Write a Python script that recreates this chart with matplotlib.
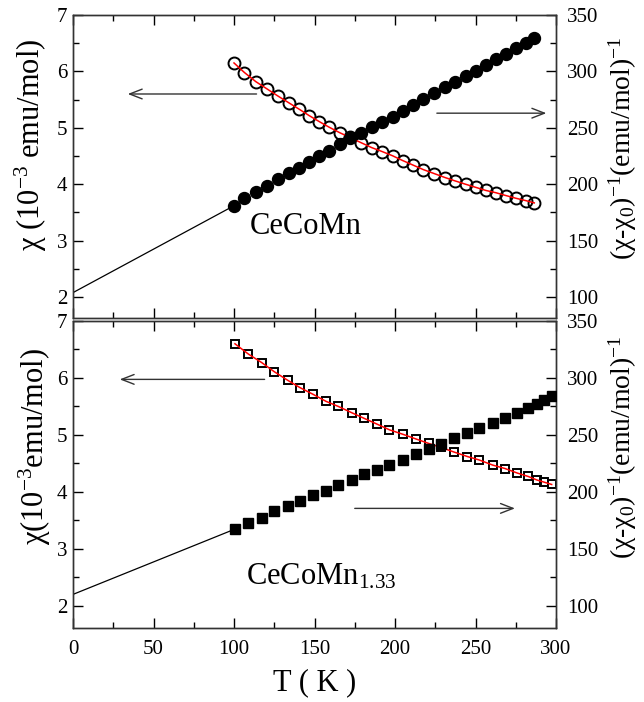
import matplotlib
matplotlib.use("Agg")
import matplotlib.pyplot as plt
from matplotlib.ticker import MultipleLocator

plt.rcParams['font.family'] = ['Liberation Serif', 'DejaVu Serif']
plt.rcParams['mathtext.fontset'] = 'custom'
plt.rcParams['mathtext.rm'] = 'Liberation Serif'
plt.rcParams['mathtext.it'] = 'Liberation Serif:italic'
plt.rcParams['mathtext.bf'] = 'Liberation Serif:bold'

# ---------------- data: CeCoMn (top panel) ----------------
T_top = [100, 106.5, 113.5, 120.5, 127.5, 134, 140.5, 146.8, 153, 159.2,
         165.6, 172, 178.7, 185.5, 192, 198.5, 204.8, 211.2, 217.6, 224.3,
         231, 237.3, 243.9, 250.2, 256.5, 262.7, 268.9, 275.4, 281.3, 286.5]
chi_top = [6.15, 5.98, 5.82, 5.69, 5.56, 5.445, 5.33, 5.215, 5.11, 5.01,
           4.915, 4.83, 4.74, 4.65, 4.58, 4.505, 4.42, 4.34, 4.26, 4.19,
           4.12, 4.06, 4.00, 3.945, 3.89, 3.85, 3.80, 3.75, 3.71, 3.67]
inv_top = [180.7, 187.5, 192.8, 198.4, 204.3, 209.7, 214.6, 220.0, 225.0, 229.7,
           235.6, 240.7, 245.1, 250.4, 254.9, 259.8, 264.9, 270.2, 275.5, 280.6,
           285.9, 290.9, 295.9, 300.6, 305.7, 310.7, 315.4, 320.5, 325.4, 329.3]
ext_T_top = [0, 100]
ext_inv_top = [104, 181]

# ---------------- data: CeCoMn1.33 (bottom panel) ----------------
T_bot = [100.6, 108.9, 117.2, 125, 133.3, 141, 149.3, 157.1, 164.8, 173.1,
         180.9, 188.8, 196.5, 205, 212.9, 221, 228.6, 236.6, 245, 252.3,
         260.7, 268.3, 276, 282.8, 288, 292.7, 297.3]
chi_bot = [6.60, 6.42, 6.27, 6.11, 5.96, 5.83, 5.71, 5.59, 5.50, 5.39,
           5.29, 5.19, 5.09, 5.01, 4.93, 4.85, 4.78, 4.70, 4.62, 4.56,
           4.47, 4.41, 4.33, 4.27, 4.21, 4.17, 4.13]
inv_bot = [167.0, 172.8, 177.2, 183.0, 187.4, 191.8, 197.1, 201.2, 205.6, 210.3,
           215.3, 219.1, 223.5, 227.9, 232.9, 237.3, 241.7, 247.5, 251.3, 255.7,
           260.1, 264.5, 269.5, 273.3, 276.8, 280.3, 284.1]
ext_T_bot = [0, 100]
ext_inv_bot = [110, 167]

x_ticks = [0, 50, 100, 150, 200, 250, 300]

W, H = 644, 702
fig = plt.figure(figsize=(W / 100, H / 100), dpi=100)

def box(l, t, r, b):
    return [l / W, 1 - b / H, (r - l) / W, (b - t) / H]

ax1 = fig.add_axes(box(73, 15, 556, 318))
ax2 = fig.add_axes(box(73, 321, 556, 628))

lab_fs = 22
rlab_fs = 20
tick_fs = 15
arrow_kw = dict(arrowstyle='->,head_length=0.9,head_width=0.35', lw=1.0,
                color='#333333', shrinkA=0, shrinkB=0)

def style(ax, axr, ylim_l, ylim_r, show_x):
    ax.set_xlim(0, 300)
    ax.set_ylim(*ylim_l)
    axr.set_ylim(*ylim_r)
    ax.set_xticks(x_ticks)
    ax.xaxis.set_minor_locator(MultipleLocator(25))
    ax.yaxis.set_major_locator(MultipleLocator(1))
    ax.yaxis.set_minor_locator(MultipleLocator(0.5))
    axr.yaxis.set_major_locator(MultipleLocator(50))
    axr.yaxis.set_minor_locator(MultipleLocator(25))
    ax.tick_params(axis='x', which='both', direction='in', top=True,
                   labelsize=tick_fs, pad=9, labelbottom=show_x)
    ax.tick_params(axis='x', which='major', length=7, width=1)
    ax.tick_params(axis='x', which='minor', length=4, width=1)
    ax.tick_params(axis='y', which='both', direction='in', right=False,
                   labelsize=tick_fs, pad=4)
    ax.tick_params(axis='y', which='major', length=7, width=1)
    ax.tick_params(axis='y', which='minor', length=4, width=1)
    axr.tick_params(axis='y', which='both', direction='in', labelsize=tick_fs, pad=8)
    axr.tick_params(axis='y', which='major', length=7, width=1)
    axr.tick_params(axis='y', which='minor', length=4, width=1)
    for a in (ax, axr):
        for s in a.spines.values():
            s.set_linewidth(1.0)
            s.set_color('#333333')

# ---- top panel ----
ax1r = ax1.twinx()
ax1.plot(T_top, chi_top, 'o', ms=8.6, mfc='none', mec='black', mew=1.4, zorder=2)
ax1.plot(T_top, chi_top, '-', color='red', lw=1.1, zorder=3)
ax1r.plot(ext_T_top, ext_inv_top, '-', color='black', lw=0.9)
ax1r.plot(T_top, inv_top, 'o', ms=8.6, mfc='black', mec='black', zorder=3)
style(ax1, ax1r, (1.63, 7), (81.5, 350), False)
ax1.set_ylabel('χ (10$^{-3}$ emu/mol)', fontsize=lab_fs)
ax1r.set_ylabel('(χ-χ$_0$)$^{-1}$(emu/mol)$^{-1}$', fontsize=rlab_fs)
ax1.yaxis.label.set_va('center')
ax1r.yaxis.label.set_va('center')
ax1.yaxis.set_label_coords(-0.087, 0.57)
ax1r.yaxis.set_label_coords(1.138, 0.56)
ax1.text(144.5, 3.26, 'CeCoMn', fontsize=22, ha='center', va='center')
ax1.annotate('', xy=(34, 5.6), xytext=(114, 5.6), arrowprops=arrow_kw)
ax1.annotate('', xy=(294, 5.26), xytext=(226, 5.26), arrowprops=arrow_kw)

# ---- bottom panel ----
ax2r = ax2.twinx()
ax2.plot(T_bot, chi_bot, 's', ms=6.3, mfc='none', mec='black', mew=1.4, zorder=2)
ax2.plot(T_bot, chi_bot, '-', color='red', lw=1.1, zorder=3)
ax2r.plot(ext_T_bot, ext_inv_bot, '-', color='black', lw=0.9)
ax2r.plot(T_bot, inv_bot, 's', ms=6.5, mfc='black', mec='black', zorder=3)
style(ax2, ax2r, (1.61, 7), (80.5, 350), True)
ax2.set_ylabel('χ(10$^{-3}$emu/mol)', fontsize=lab_fs)
ax2r.set_ylabel('(χ-χ$_0$)$^{-1}$(emu/mol)$^{-1}$', fontsize=rlab_fs)
ax2.yaxis.label.set_va('center')
ax2r.yaxis.label.set_va('center')
ax2.yaxis.set_label_coords(-0.079, 0.59)
ax2r.yaxis.set_label_coords(1.138, 0.59)
ax2.set_xlabel('T ( K )', fontsize=lab_fs, labelpad=6)
ax2.text(154, 2.51, 'CeCoMn$_{1.33}$', fontsize=22, ha='center', va='center')
ax2.annotate('', xy=(29, 5.975), xytext=(119, 5.975), arrowprops=arrow_kw)
ax2.annotate('', xy=(274.5, 3.71), xytext=(175, 3.71), arrowprops=arrow_kw)

fig.savefig('out.png', dpi=100)
